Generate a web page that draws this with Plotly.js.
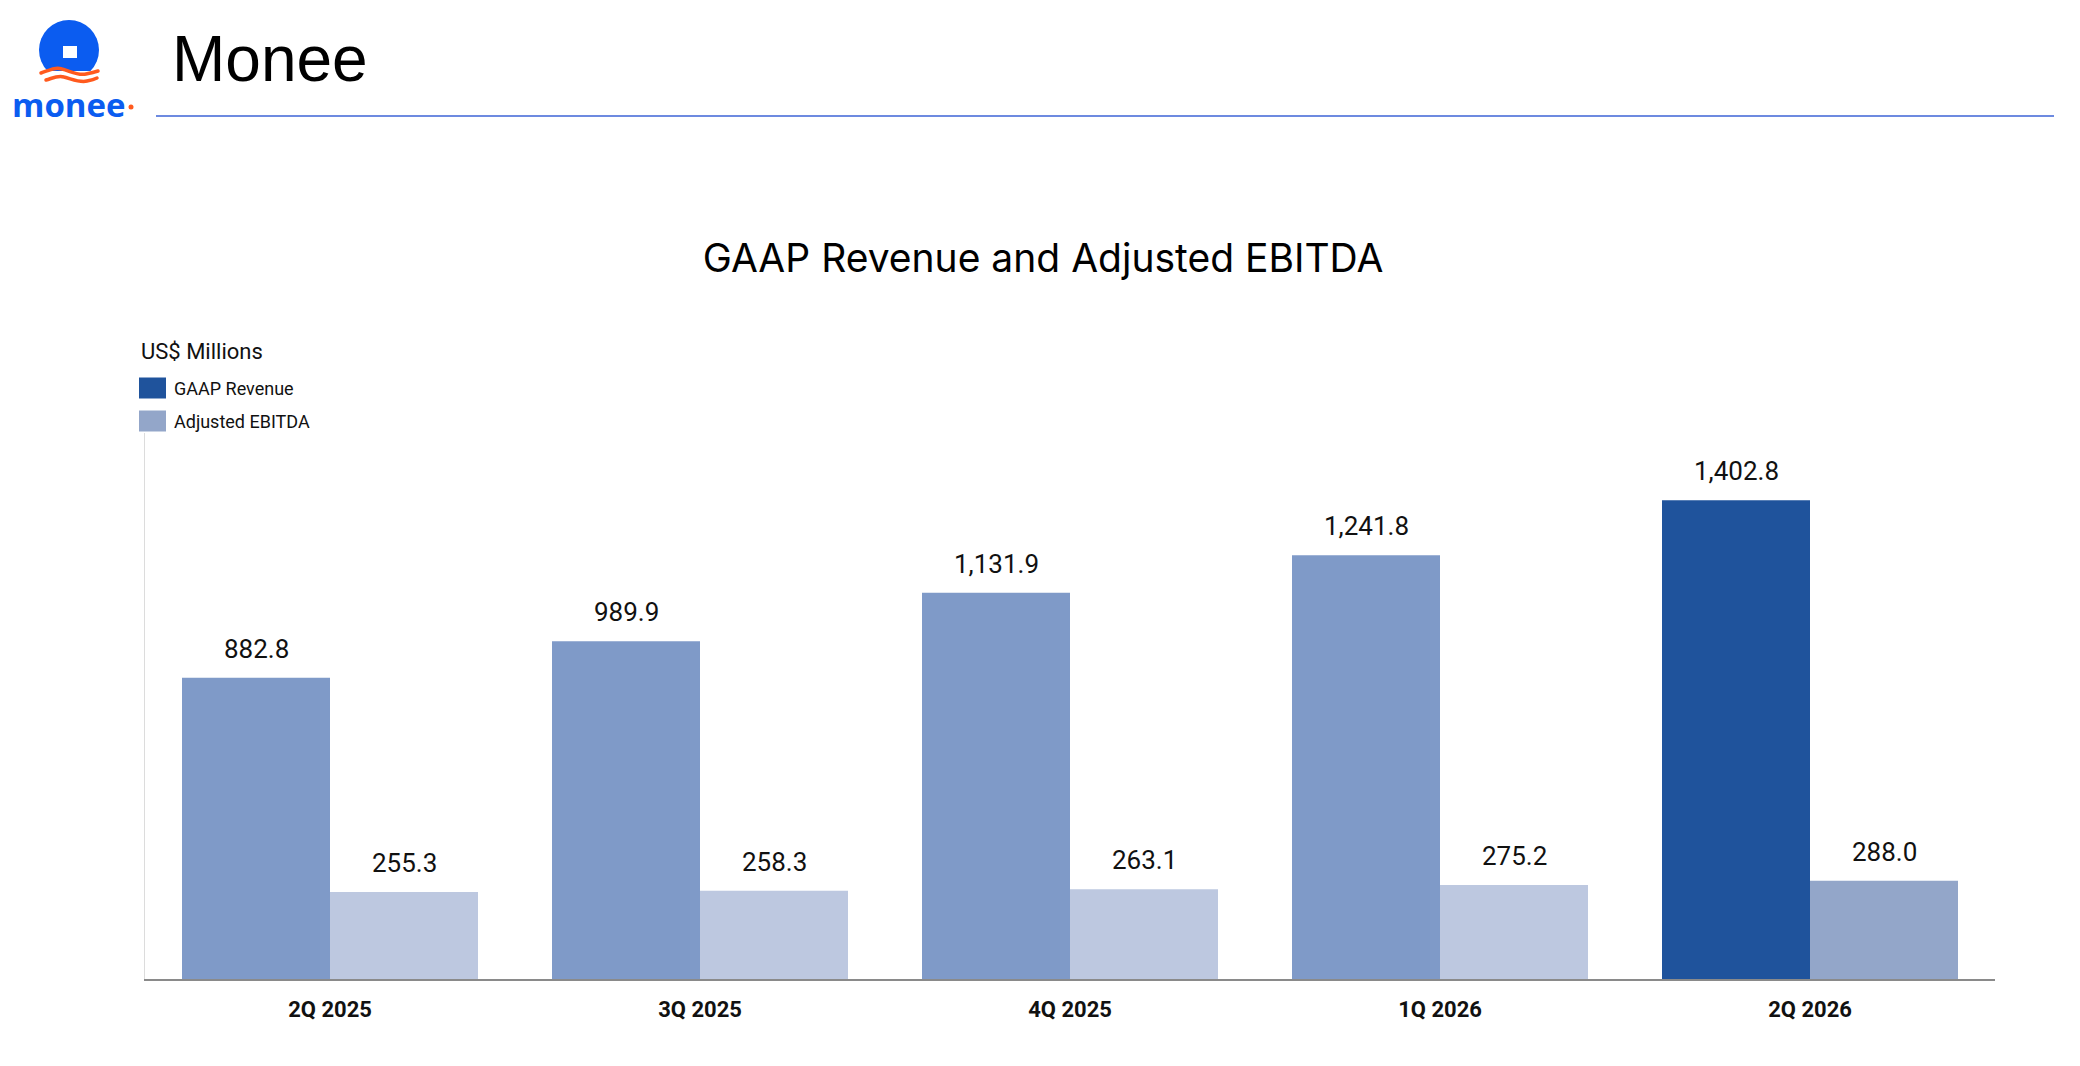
<!DOCTYPE html>
<html>
<head>
<meta charset="utf-8">
<script src="https://cdn.plot.ly/plotly-3.0.1.min.js"></script>
<style>html,body{margin:0;padding:0;background:#fff;}#chart{width:2080px;height:1066px;}</style>
</head>
<body>
<div id="chart"></div>
<script>
// ---- data ----
const quarters = ["2Q 2025", "3Q 2025", "4Q 2025", "1Q 2026", "2Q 2026"];
const gaapRevenue = [882.8, 989.9, 1131.9, 1241.8, 1402.8];
const adjustedEbitda = [255.3, 258.3, 263.1, 275.2, 288.0];
const seriesNames = ["GAAP Revenue", "Adjusted EBITDA"];
const unitLabel = "US$ Millions";
const chartTitle = "GAAP Revenue and Adjusted EBITDA";
const companyName = "Monee";
const logoWord = "monee";

// ---- styles ----
const W = 2080, H = 1066;
const M = {l: 145, r: 85, t: 433, b: 87};
const PW = W - M.l - M.r, PH = H - M.t - M.b;
const px = x => (x - M.l) / PW;
const py = y => (H - M.b - y) / PH;

const gaapColors = quarters.map((q, i) => i === quarters.length - 1 ? "#1f539c" : "#7f9ac8");
const ebitdaColors = quarters.map((q, i) => i === quarters.length - 1 ? "#93a6c9" : "#bdc8e0");
const FONT = "Roboto, 'Open Sans', sans-serif";
const TITLE_FONT = "Inter, Roboto, sans-serif";

const fmt = v => v.toLocaleString("en-US", {minimumFractionDigits: 1, maximumFractionDigits: 1});

const traces = [
  {type: "bar", name: seriesNames[0], x: quarters, y: gaapRevenue,
   marker: {color: gaapColors, line: {width: 0}}, hoverinfo: "x+y"},
  {type: "bar", name: seriesNames[1], x: quarters, y: adjustedEbitda,
   marker: {color: ebitdaColors, line: {width: 0}}, hoverinfo: "x+y"}
];

const barShift = PW / quarters.length * 0.8 / 4;
const annotations = [];
quarters.forEach((q, i) => {
  annotations.push({x: q, y: gaapRevenue[i], xref: "x", yref: "y", text: fmt(gaapRevenue[i]),
    showarrow: false, xshift: -barShift, yshift: 12, yanchor: "bottom",
    font: {family: FONT, size: 26, color: "#111"}});
  annotations.push({x: q, y: adjustedEbitda[i], xref: "x", yref: "y", text: fmt(adjustedEbitda[i]),
    showarrow: false, xshift: barShift, yshift: 12, yanchor: "bottom",
    font: {family: FONT, size: 26, color: "#111"}});
});

// header texts
annotations.push({xref: "paper", yref: "paper", x: px(170), y: py(59), xanchor: "left", yanchor: "middle",
  text: companyName, showarrow: false, font: {family: "'Liberation Sans', Arial, sans-serif", size: 64, color: "#000"}});
annotations.push({xref: "paper", yref: "paper", x: px(69), y: py(105), xanchor: "center", yanchor: "middle",
  text: "<b>" + logoWord + "</b>", showarrow: false, font: {family: "'Open Sans', sans-serif", size: 33, color: "#0b5cf0"}});
// unit label and legend
annotations.push({xref: "paper", yref: "paper", x: px(139), y: py(351), xanchor: "left", yanchor: "middle",
  text: unitLabel, showarrow: false, font: {family: FONT, size: 22, color: "#111"}});
const legendColors = ["#1f539c", "#93a6c9"];
const legendY = [388, 421];
const shapes = [];
seriesNames.forEach((n, i) => {
  annotations.push({xref: "paper", yref: "paper", x: px(172), y: py(legendY[i]), xanchor: "left", yanchor: "middle",
    text: n, showarrow: false, font: {family: FONT, size: 18, color: "#111"}});
  shapes.push({type: "rect", xref: "paper", yref: "paper", x0: px(139), x1: px(166),
    y0: py(legendY[i] - 10.5), y1: py(legendY[i] + 10.5), fillcolor: legendColors[i], line: {width: 0}});
});
// header rule
shapes.push({type: "line", xref: "paper", yref: "paper", x0: px(156), x1: px(2054), y0: py(116), y1: py(116),
  line: {color: "#3d63d6", width: 1.5}});

const logoSvg = `<svg xmlns="http://www.w3.org/2000/svg" width="140" height="120" viewBox="0 0 140 120">
<defs><clipPath id="c"><rect x="0" y="0" width="140" height="71"/></clipPath></defs>
<circle cx="69" cy="50" r="30" fill="#0b5cf0" clip-path="url(#c)"/>
<rect x="63" y="46" width="14" height="12" fill="#fff"/>
<path d="M41 73 C50 70 55 67 62 69 C70 71 78 76 86 74 C91 73 95 72 98 71" fill="none" stroke="#ff5a1e" stroke-width="3.5" stroke-linecap="round"/>
<path d="M46 80 C53 78 58 75 64 77 C72 79 80 83 87 81 C92 80 95 79 97 78" fill="none" stroke="#ff5a1e" stroke-width="3.5" stroke-linecap="round"/>
<circle cx="131" cy="107" r="2.5" fill="#ff5a1e"/>
</svg>`;
const logoSrc = "data:image/svg+xml;charset=utf-8," + encodeURIComponent(logoSvg);

const layout = {
  width: W, height: H,
  margin: M,
  paper_bgcolor: "#fff", plot_bgcolor: "#fff",
  showlegend: false,
  barmode: "group", bargap: 0.2, bargroupgap: 0,
  title: {text: chartTitle, xref: "container", x: 1043 / W, xanchor: "center", yref: "container", y: 1 - 258 / H, yanchor: "middle",
    font: {family: TITLE_FONT, size: 39, color: "#000"}},
  xaxis: {type: "category", showline: true, linecolor: "#8a8a8a", linewidth: 2, ticks: "", showgrid: false,
    zeroline: false, tickfont: {family: FONT, size: 22, color: "#111", weight: "bold"}, ticklabelstandoff: 10},
  yaxis: {range: [0, 1600], showline: true, linecolor: "#dcdcdc", linewidth: 1.5, showgrid: false,
    zeroline: false, showticklabels: false, ticks: ""},
  annotations: annotations,
  shapes: shapes,
  images: [{source: logoSrc, xref: "paper", yref: "paper", x: px(0), y: py(0), sizex: 140 / PW, sizey: 120 / PH,
    xanchor: "left", yanchor: "top", sizing: "stretch", layer: "above"}]
};

Plotly.newPlot("chart", traces, layout, {displayModeBar: false, staticPlot: true});
</script>
</body>
</html>
